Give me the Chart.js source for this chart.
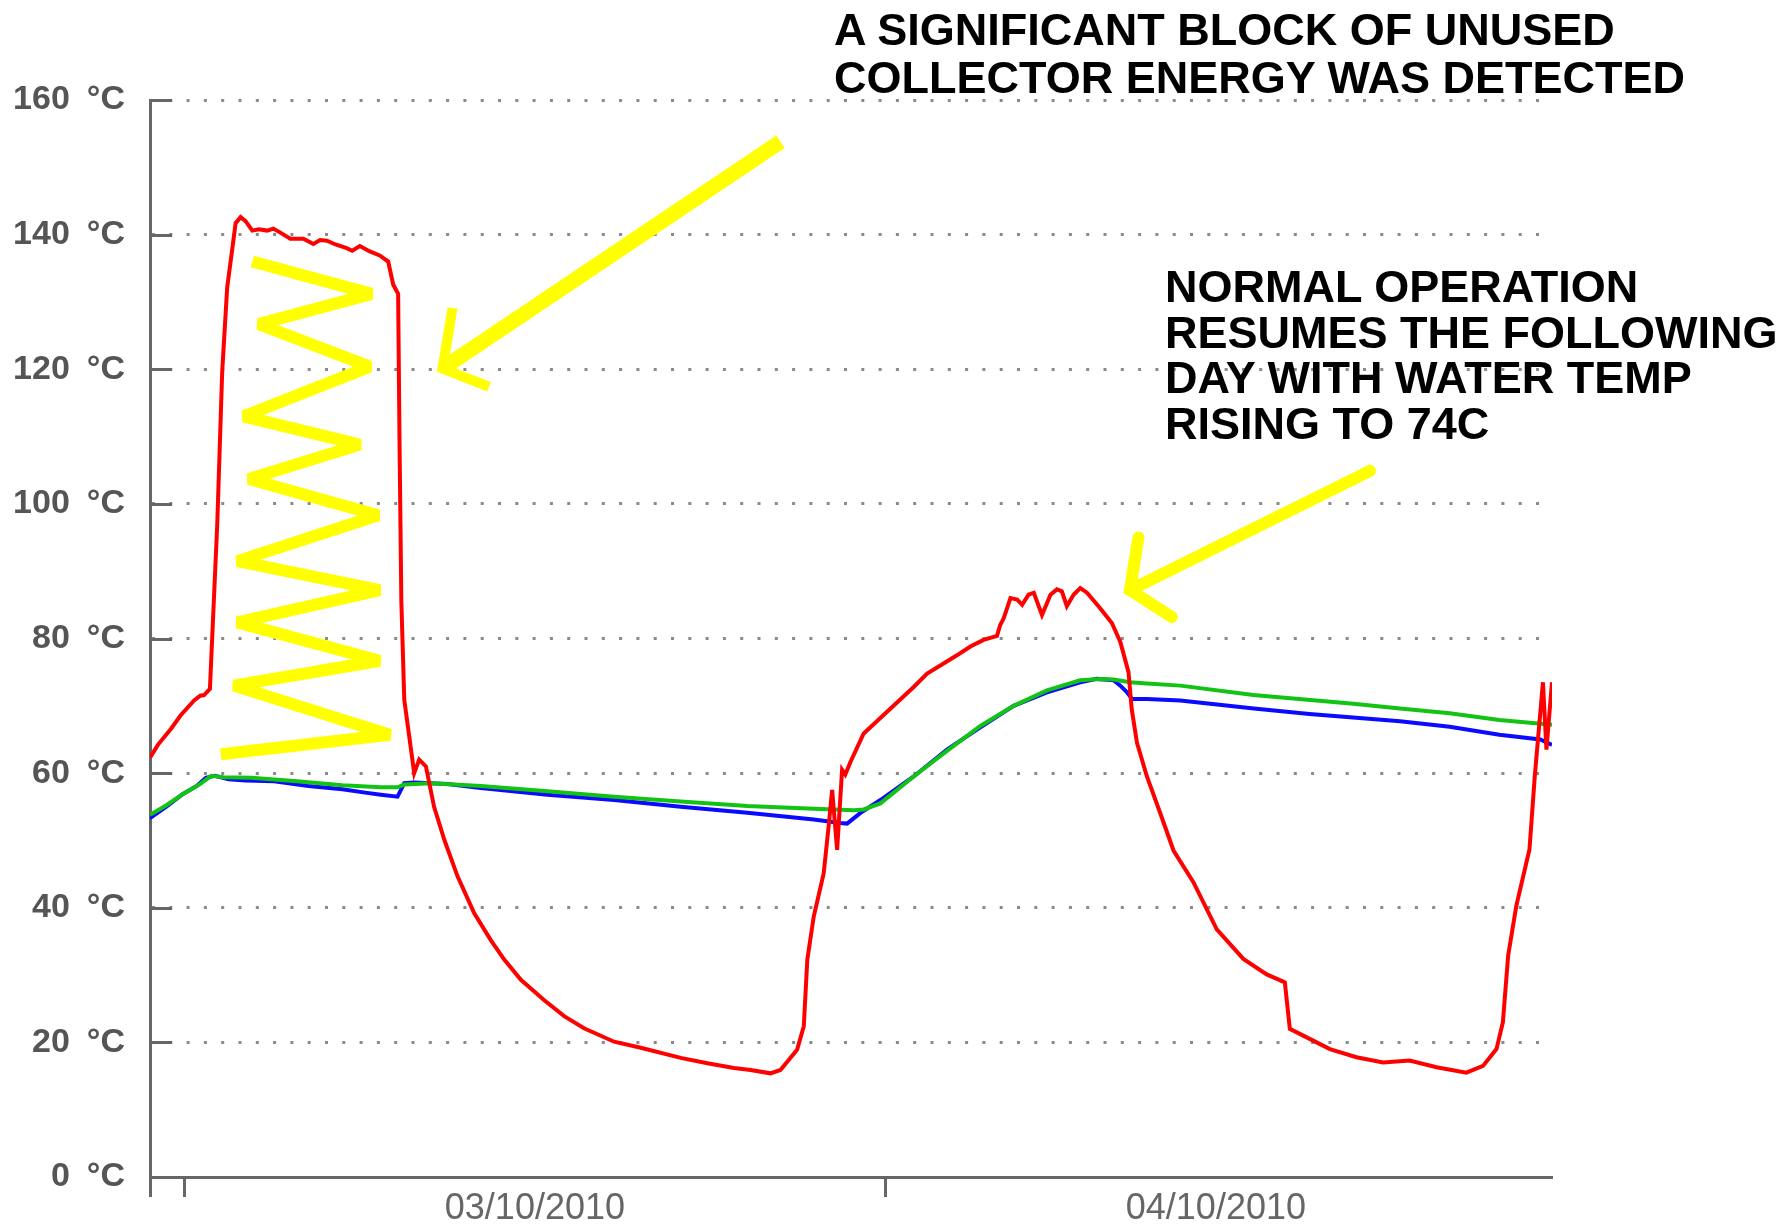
<!DOCTYPE html>
<html>
<head>
<meta charset="utf-8">
<title>Solar collector temperatures</title>
<script src="https://cdn.jsdelivr.net/npm/chart.js@4.4.1/dist/chart.umd.min.js"></script>
<style>
  html, body { margin: 0; padding: 0; background: #fff; }
  #wrap { position: relative; width: 1787px; height: 1232px; }
  #chart { position: absolute; left: 0; top: 0; }
  .note { position: absolute; font-family: "Liberation Sans", Arial, sans-serif; font-weight: bold;
          font-size: 45px; color: #000; white-space: nowrap; }
</style>
</head>
<body>
<div id="wrap">
  <canvas id="chart" width="1787" height="1232"></canvas>
  <div class="note" style="left:834px; top:6px; line-height:48px;">A SIGNIFICANT BLOCK OF UNUSED<br>COLLECTOR ENERGY WAS DETECTED</div>
  <div class="note" style="left:1165px; top:264px; line-height:45.5px;">NORMAL OPERATION<br>RESUMES THE FOLLOWING<br>DAY WITH WATER TEMP<br>RISING TO 74C</div>
</div>
<script>
// x values are hours counted from 03/10/2010 00:00
var collectorHours = [-1.17, -0.9, -0.45, -0.12, 0.34, 0.55, 0.68, 0.88, 1.13, 1.30, 1.47, 1.64, 1.76, 1.93, 2.10, 2.33, 2.55, 2.84, 3.05, 3.29, 3.63, 4.08, 4.42, 4.65, 4.88, 5.20, 5.56, 5.75, 6.01, 6.35, 6.69, 6.98, 7.15, 7.32, 7.37, 7.43, 7.53, 7.76, 7.87, 8.04, 8.27, 8.55, 8.90, 9.35, 9.92, 10.49, 10.95, 11.52, 12.31, 13.00, 13.68, 14.71, 15.62, 16.99, 17.90, 18.81, 19.38, 20.06, 20.40, 20.97, 21.20, 21.32, 21.54, 21.88, 22.05, 22.17, 22.34, 22.51, 22.62, 22.80, 23.25, 23.82, 24.39, 24.96, 25.42, 25.87, 26.44, 26.90, 27.35, 27.81, 27.92, 28.04, 28.27, 28.50, 28.67, 28.89, 29.07, 29.35, 29.64, 29.86, 30.03, 30.20, 30.43, 30.66, 30.89, 31.34, 31.74, 32.03, 32.31, 32.42, 32.60, 32.94, 33.40, 33.85, 34.53, 35.33, 36.24, 37.04, 37.66, 37.83, 38.29, 39.20, 40.11, 41.02, 41.93, 42.85, 43.87, 44.44, 44.90, 45.12, 45.30, 45.58, 46.03, 46.21, 46.49, 46.61, 46.80];
var collectorTemps = [62.3, 64.2, 66.6, 68.6, 70.8, 71.5, 71.6, 72.5, 96.9, 119.6, 132.1, 137.7, 141.7, 142.6, 142.0, 140.6, 140.8, 140.6, 140.9, 140.3, 139.4, 139.4, 138.6, 139.2, 139.1, 138.5, 138.0, 137.6, 138.3, 137.5, 136.9, 136.0, 132.6, 131.2, 108.2, 85.5, 70.9, 63.5, 60.0, 62.0, 61.0, 55.0, 50.1, 44.7, 39.2, 35.2, 32.3, 29.3, 26.3, 23.9, 22.1, 20.1, 19.2, 17.7, 16.9, 16.2, 15.9, 15.4, 15.9, 18.9, 22.4, 32.3, 38.7, 45.1, 52.1, 57.5, 48.6, 60.5, 59.8, 61.7, 65.9, 68.2, 70.5, 72.8, 74.8, 76.0, 77.5, 78.8, 79.8, 80.4, 82.0, 83.0, 86.0, 85.8, 85.0, 86.5, 86.8, 83.5, 86.5, 87.3, 87.0, 84.8, 86.5, 87.5, 86.8, 84.5, 82.3, 79.5, 75.0, 69.5, 64.5, 59.5, 54.0, 48.5, 43.8, 36.8, 32.4, 30.1, 28.9, 22.0, 21.0, 19.0, 17.8, 17.0, 17.3, 16.3, 15.5, 16.5, 19.0, 23.0, 32.9, 40.3, 48.7, 59.5, 73.5, 63.5, 73.5];

var tankHours = [-1.17, -0.62, -0.04, 0.55, 0.93, 1.32, 2.30, 3.86, 5.41, 6.73, 7.30, 7.53, 8.44, 10.15, 12.43, 14.71, 16.99, 19.27, 21.54, 22.91, 23.25, 23.82, 24.96, 26.10, 27.24, 28.38, 29.52, 30.66, 31.34, 31.80, 32.37, 32.94, 34.08, 36.58, 40.00, 41.60, 43.30, 45.00, 46.80];
var tankTemps = [53.8, 55.2, 56.9, 58.4, 59.6, 59.4, 59.3, 58.8, 58.2, 57.9, 57.9, 58.3, 58.5, 58.1, 57.3, 56.5, 55.8, 55.1, 54.7, 54.5, 54.6, 55.5, 59.5, 63.3, 67.0, 70.0, 72.3, 73.8, 74.0, 73.9, 73.5, 73.3, 73.0, 71.6, 70.3, 69.6, 68.9, 67.9, 67.2];

var waterHours = [-1.17, -0.62, -0.04, 0.43, 0.74, 1.05, 1.52, 2.10, 3.08, 4.25, 5.41, 6.19, 6.73, 7.30, 7.53, 7.87, 9.01, 10.15, 12.43, 14.71, 16.99, 19.27, 21.54, 22.45, 22.68, 23.14, 23.82, 24.96, 26.10, 27.24, 28.38, 29.52, 30.66, 31.23, 31.80, 32.03, 32.26, 32.43, 32.94, 34.08, 36.60, 38.50, 41.60, 43.30, 45.00, 46.40, 46.80];
var waterTemps = [53.3, 55.0, 56.9, 58.1, 59.3, 59.6, 59.1, 58.9, 58.8, 58.1, 57.6, 57.1, 56.8, 56.5, 58.5, 58.6, 58.4, 57.8, 56.8, 56.0, 55.0, 54.1, 53.1, 52.6, 52.5, 54.1, 56.0, 59.5, 63.5, 66.8, 70.0, 72.0, 73.5, 74.0, 73.8, 73.0, 72.0, 71.0, 71.0, 70.8, 69.6, 68.8, 67.7, 66.9, 65.7, 65.0, 64.2];

var yTicks = [0, 20, 40, 60, 80, 100, 120, 140, 160];
var xStart = -1.17, xEnd = 46.8;
var dayTicks = [0, 24];
var dayLabelHours = [12, 35.3];
var dayLabels = ['03/10/2010', '04/10/2010'];

// hand drawn yellow marks, as [hour, °C]
var zigzag = [[2.33,136.0],[6.41,131.2],[2.55,126.7],[6.35,120.4],[2.04,113.0],[6.01,108.8],[2.21,103.7],[6.64,98.3],[1.82,91.5],[6.69,87.2],[1.82,82.4],[6.69,76.7],[1.70,73.0],[7.04,65.7],[1.25,62.8]];
var arrow1Shaft = [[20.40,153.8],[8.84,120.1]];
var arrow1Head = [[9.18,129.1],[8.84,120.1],[10.43,117.4]];
var arrow2Shaft = [[40.57,104.9],[32.36,87.2]];
var arrow2Head = [[32.65,95.0],[32.36,87.2],[33.79,83.2]];

var axisColor = '#666666';

function pts(xs, ys) {
    return xs.map(function(x, i){ return {x: x, y: ys[i]}; });
}

var marksPlugin = {
    id: 'marks',
    beforeDatasetsDraw: function(chart) {
        var ctx = chart.ctx, ys = chart.scales.y, left = chart.chartArea.left;
        ctx.save();
        ctx.strokeStyle = axisColor;
        ctx.lineWidth = 3;
        yTicks.forEach(function(v){
            var py = Math.round(ys.getPixelForValue(v)) + 0.5;
            ctx.beginPath();
            ctx.moveTo(left, py);
            ctx.lineTo(left + 22, py);
            ctx.stroke();
        });
        ctx.restore();
    },
    afterDatasetsDraw: function(chart) {
        var ctx = chart.ctx, xs = chart.scales.x, ys = chart.scales.y;
        function line(points, width, cap) {
            ctx.save();
            ctx.strokeStyle = '#ffff00';
            ctx.lineWidth = width;
            ctx.lineCap = cap;
            ctx.lineJoin = 'miter';
            ctx.miterLimit = 2;
            ctx.beginPath();
            points.forEach(function(p, i){
                var px = xs.getPixelForValue(p[0]), py = ys.getPixelForValue(p[1]);
                if (i === 0) ctx.moveTo(px, py); else ctx.lineTo(px, py);
            });
            ctx.stroke();
            ctx.restore();
        }
        line(zigzag, 12, 'butt');
        line(arrow1Shaft, 15, 'butt');
        line(arrow1Head, 10, 'butt');
        line(arrow2Shaft, 12, 'round');
        line(arrow2Head, 12, 'round');
    }
};

var canvas = document.getElementById('chart');
new Chart(canvas, {
    type: 'line',
    data: {
        datasets: [
            {data: pts(collectorHours, collectorTemps), borderColor: '#ff0000', borderWidth: 4, pointRadius: 0, tension: 0, fill: false},
            {data: pts(tankHours, tankTemps), borderColor: '#13c313', borderWidth: 4, pointRadius: 0, tension: 0, fill: false},
            {data: pts(waterHours, waterTemps), borderColor: '#0a0aff', borderWidth: 4, pointRadius: 0, tension: 0, fill: false}
        ]
    },
    options: {
        responsive: false,
        animation: false,
        devicePixelRatio: 1,
        layout: {padding: {left: 0, top: 100, right: 235, bottom: 0}},
        plugins: {legend: {display: false}, tooltip: {enabled: false}},
        scales: {
            x: {
                type: 'linear',
                min: xStart,
                max: xEnd,
                afterBuildTicks: function(s){
                    var vals = [xStart].concat(dayTicks, dayLabelHours).sort(function(a, b){ return a - b; });
                    s.ticks = vals.map(function(v){ return {value: v}; });
                },
                afterFit: function(s){ s.height = 55; },
                grid: {
                    drawOnChartArea: false,
                    drawTicks: true,
                    tickLength: 20,
                    tickWidth: 3,
                    tickColor: function(c){
                        var v = c.tick ? c.tick.value : null;
                        return (v === xStart || dayTicks.indexOf(v) >= 0) ? axisColor : 'rgba(0,0,0,0)';
                    }
                },
                border: {display: true, color: axisColor, width: 3},
                ticks: {
                    autoSkip: false,
                    maxRotation: 0,
                    padding: -10,
                    color: '#666666',
                    font: {family: 'Liberation Sans', size: 36},
                    callback: function(v){
                        var i = dayLabelHours.indexOf(v);
                        return i >= 0 ? dayLabels[i] : '';
                    }
                }
            },
            y: {
                min: 0,
                max: 160,
                afterBuildTicks: function(s){
                    s.ticks = yTicks.map(function(v){ return {value: v}; });
                },
                afterFit: function(s){ s.width = 150; },
                grid: {drawTicks: false, color: 'rgba(125,125,125,0.9)', lineWidth: 3},
                border: {display: true, color: axisColor, width: 3, dash: [3, 14.3]},
                ticks: {
                    padding: 25,
                    color: '#555555',
                    font: {family: 'Liberation Sans', size: 34, weight: 'bold'},
                    callback: function(v){ return v + '\u2002°C'; }
                }
            }
        }
    },
    plugins: [marksPlugin]
});
</script>
</body>
</html>
